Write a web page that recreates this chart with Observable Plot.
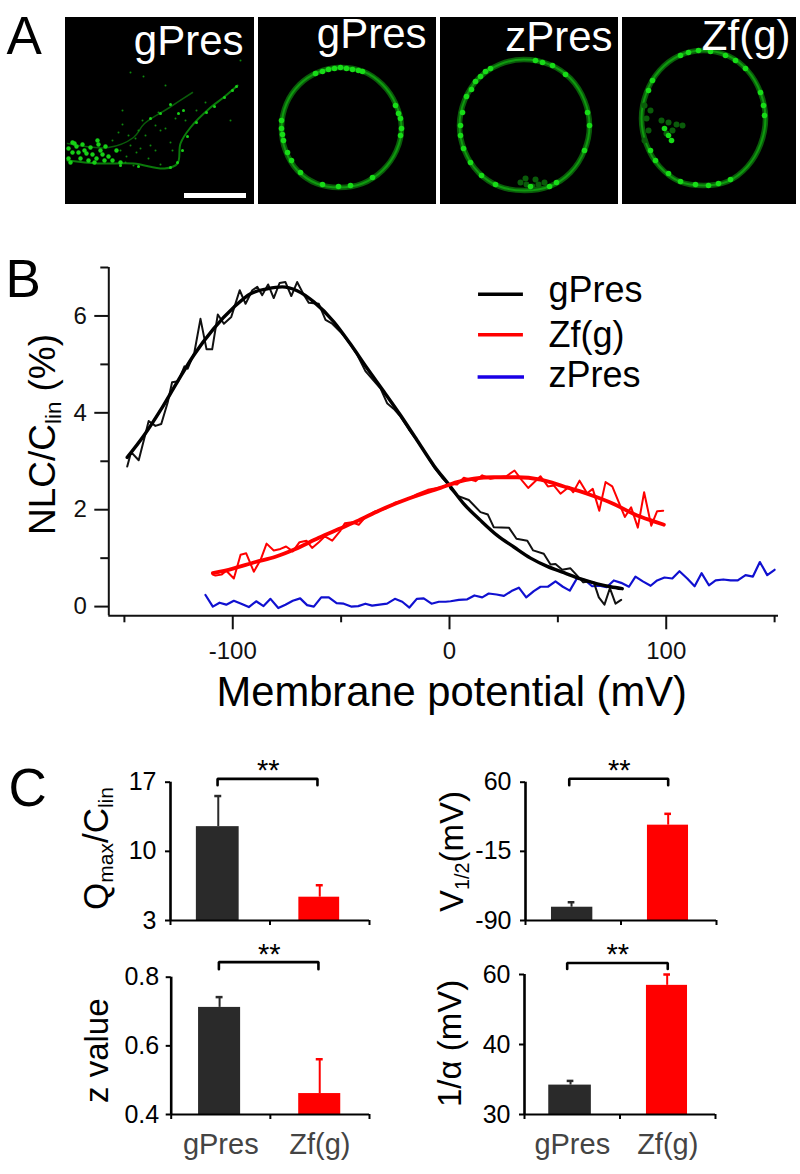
<!DOCTYPE html>
<html>
<head>
<meta charset="utf-8">
<script src="https://cdn.jsdelivr.net/npm/d3@7"></script>
<script src="https://cdn.jsdelivr.net/npm/@observablehq/plot@0.6"></script>
<style>
html,body{margin:0;padding:0;background:#fff}
#page{position:relative;width:800px;height:1174px;overflow:hidden}
#page svg{position:absolute;background:transparent;max-width:none}
</style>
</head>
<body>
<div id="page"></div>
<script>
const FONT = "Liberation Sans, Arial, sans-serif";

// ---------- Panel A: micrographs (positions read in page pixels) ----------
const panelLeft = [65, 258, 440, 622];
const panelRight = [254, 436, 618, 796];
const panelTop = [17, 17, 17, 17];
const panelBottom = [204, 204, 204, 204];
const panelNames = ["gPres", "gPres", "zPres", "Zf(g)"];
const panelNameX = [243, 426, 612, 790];
const panelNameY = [41, 34, 37, 36];

const ring2X = [338,363,382,395,401,396,382,362,338,316,297,285,281,286,299,317];
const ring2Y = [67,71,84,103,127,150,170,183,187,183,170,150,127,103,84,72];
const ring3X = [523,549,570,584,589,584,570,549,524,499,478,464,459,464,478,499];
const ring3Y = [59,64,78,100,125,150,172,186,190,186,172,150,125,100,78,64];
const ring4X = [703,727,747,760,765,760,747,727,703,679,659,646,641,646,659,679];
const ring4Y = [50,55,70,92,118,144,166,181,185,181,166,144,118,92,70,55];

const spot2X = [315,322,328,334,340,346,352,358,362,395,398,400,401,400,281,281,282,283,287,322,338,350,372,300,291];
const spot2Y = [73,71,69,68,67,68,69,70,71,105,113,118,128,135,120,128,134,140,152,184,186,185,177,172,160];
const spot3X = [535,542,552,565,587,589,584,556,549,490,485,480,475,471,466,462,460,460,463,470,481,495,530];
const spot3Y = [60,62,65,74,112,125,150,182,186,68,71,76,81,89,96,112,125,135,148,162,175,184,186];
const spot4X = [680,688,698,710,725,735,745,760,763,764,650,655,668,680,695,708,718,730,648,652,668,664,671];
const spot4Y = [55,52,50,51,55,60,68,92,105,115,150,160,173,181,184,185,183,179,90,80,135,128,140];
const dim3X = [520,526,532,538,544,525,535];
const dim3Y = [182,184,186,184,182,178,179];
const dim4X = [661,668,676,682,672,666,644,646,648,650,644];
const dim4Y = [120,122,124,125,130,133,105,118,130,110,140];

const cellEdgeX = [67,97,133,164,177,180,190,210,223,237];
const cellEdgeY = [160,163,163,168,163,143,127,107,97,85];
const cellUpperX = [192,169,144,133,108,67];
const cellUpperY = [92,107,123,137,147,143];
const blobX = [68,72,76,80,84,88,92,96,100,104,108,70,74,78,82,86,90,94,98,102,68,72,112,116,120,97,105];
const blobY = [148,152,146,158,150,160,154,158,150,160,156,162,143,152,144,153,147,162,144,154,158,142,160,150,162,140,146];
const speckX = [120,126,130,136,140,145,150,155,160,165,148,135,125,142,155,170,175,158,138,128,112,118,196,205,185,122,130,143,165,172,230,122,160,240,133];
const speckY = [150,156,145,152,148,135,145,125,130,128,158,138,162,120,150,142,118,112,130,135,140,132,110,102,120,110,72,76,85,150,120,124,164,60,165];
const speckBrightX = [170,177,182,187,196,206,214,224,232,236,183,178,160,150,138,170,120];
const speckBrightY = [167,162,150,136,122,112,106,97,90,86,110,113,113,118,166,104,165];
const scaleBarX1 = [184]; const scaleBarX2 = [246]; const scaleBarY1 = [193]; const scaleBarY2 = [198];

const panelLetters = ["A", "B", "C"];
const letterX = [6, 5, 8];
const letterY = [37, 280, 789];

// ---------- Panel B: NLC curves ----------
const gPresV = [-148.7,-146.9,-143.4,-140.6,-138.8,-135.7,-133,-130,-128,-125.2,-122.3,-120.8,-117.7,-114.9,-112.1,-109.5,-106.9,-104.1,-100.7,-96.8,-94.1,-91,-88.7,-86.4,-83.7,-81.1,-78.4,-75.7,-73,-70.3,-67.5,-64.9,-60.3,-57.2,-54.1,-50.3,-46.5,-42.6,-38.8,-35.7,-31.8,-28.8,-25.7,-22.6,-18.8,-14.9,-11.1,-7.2,-3.4,-0.3,0.5,3.5,8.9,14.3,17.7,20.4,27.4,30.9,35.9,38.6,43.5,46.6,48.9,52,55.8,58.9,61.7,64.3,66.6,68.9,71.5,74,76.6,79.2];
const gPresNLC = [2.89,3.19,3.02,3.51,3.83,3.73,3.77,4.22,4.63,4.65,4.96,4.91,5.25,5.94,5.31,5.31,6.03,5.84,5.98,6.53,6.25,6.53,6.6,6.43,6.65,6.37,6.68,6.7,6.41,6.7,6.46,6.27,6.25,5.92,5.84,5.67,5.46,5.2,4.86,4.7,4.5,4.2,4.08,3.92,3.66,3.42,3.17,2.88,2.66,2.52,2.43,2.29,2.2,1.95,1.9,1.64,1.63,1.4,1.36,1.16,1.09,0.87,0.88,0.76,0.79,0.64,0.5,0.52,0.5,0.19,0.04,0.38,0.06,0.14];
const gPresFitV = [-148.7,-141,-133.4,-125.7,-118,-108.8,-99.5,-91.8,-84.1,-77.2,-70.3,-62.6,-53.4,-45.7,-38,-30.3,-22.6,-14.9,-7.2,-0.3,6.6,14.3,22,29.7,37.4,45.1,52.8,60.5,68.2,74.3,79.7];
const gPresFitNLC = [3.08,3.53,4.05,4.63,5.19,5.74,6.18,6.46,6.56,6.6,6.52,6.29,5.88,5.42,4.92,4.44,3.95,3.43,2.91,2.52,2.12,1.78,1.47,1.23,1.0,0.83,0.7,0.57,0.47,0.41,0.37];

const zfV = [-109.2,-108,-105.2,-103,-99.5,-96.4,-93.8,-90.3,-87.2,-84.4,-81.1,-78,-75.4,-72.3,-69.2,-66,-63.4,-60.3,-57.5,-54.1,-50.3,-48.3,-44.9,-41.9,-38.8,-34.1,-29.5,-24.9,-20.3,-15,-10,-4.2,0.5,3.5,6.6,12,15.1,18.9,22.8,26.2,30,33.5,36.3,42,45.4,48.1,51.2,55.1,57.1,60,63.5,66.1,69.1,72,75.1,80.9,83.8,86.9,89.8,93.1,95.8,98.6];
const zfNLC = [0.66,0.64,0.66,0.74,0.58,1.07,1.1,0.72,0.96,1.3,1.16,1.19,1.24,1.14,1.33,1.36,1.21,1.33,1.45,1.36,1.57,1.72,1.74,1.69,1.85,1.97,2.02,2.15,2.2,2.32,2.41,2.46,2.53,2.52,2.66,2.59,2.71,2.64,2.67,2.69,2.81,2.6,2.45,2.69,2.48,2.5,2.33,2.47,2.36,2.6,2.34,2.43,1.98,2.57,2.48,1.85,2.05,1.63,2.36,1.67,1.97,1.98];
const zfFitV = [-109.2,-100.3,-89.5,-80.3,-71.1,-60.3,-51.1,-41.9,-32.6,-18.8,-4.2,3.5,11.2,20.4,31.2,42,52.8,63.5,75.8,86.6,94.3,98.9];
const zfFitNLC = [0.69,0.78,0.92,1.03,1.19,1.42,1.6,1.78,1.98,2.23,2.45,2.57,2.64,2.67,2.67,2.62,2.48,2.33,2.12,1.88,1.76,1.69];

const zPresV = [-112.6,-109.2,-106.1,-103,-99.5,-96.1,-92.6,-89.2,-85.8,-82.6,-79,-75.7,-72.3,-68.9,-65.7,-62.6,-59.2,-55.7,-52.1,-48.8,-45.4,-42.1,-38.8,-35.7,-32.3,-28.8,-25.2,-21.8,-18.5,-15.1,-11.9,-8.3,-4.9,-1.8,0.5,4.3,8.2,11.5,15.1,18.1,21.7,25.1,28.6,32,35.4,38.9,42,45.4,48.9,52.3,55.5,58.9,62.4,65.8,69.2,72.5,75.8,79.2,82.8,85.8,89.2,92.8,95.8,99.2,102.8,106.1,109.7,113.1,116.3,119.7,122.8,126.3,129.7,133,136.6,140,143.2,146.6,150];
const zPresNLC = [0.24,0,0.08,0.04,0.12,0.06,-0.01,0.11,0.01,0.16,-0.03,0.04,0.12,0.17,0.03,0,0.19,0.19,0.07,0.06,0,0.01,0.06,0.02,0.04,0.06,0.16,0.1,-0.02,0.16,0.17,0.06,0.1,0.1,0.11,0.14,0.15,0.23,0.19,0.27,0.25,0.22,0.32,0.39,0.19,0.32,0.41,0.41,0.52,0.41,0.33,0.59,0.55,0.42,0.43,0.4,0.54,0.49,0.41,0.62,0.52,0.43,0.54,0.6,0.58,0.73,0.58,0.42,0.69,0.44,0.54,0.56,0.54,0.54,0.65,0.62,0.92,0.65,0.76];

const legendNames = ["gPres", "Zf(g)", "zPres"];
const legendColors = ["#000000", "#ff0000", "#1a00e6"];
const legendLineY = [6.45, 5.61, 4.74];
const legendTextY = [6.52, 5.6, 4.77];
const legendX1 = [13.4, 13.4, 13.2];
const legendX2 = [34.1, 34.1, 34.6];
const legendTextX = [45.7, 45.7, 45.7];

const bMajorX = [-100, 0, 100];
const bMinorX = [-150, -50, 50, 150];
const bMajorY = [0, 2, 4, 6];
const bMinorY = [1, 3, 5, 7];

// ---------- Panel C: bars ----------
const categories = ["gPres", "Zf(g)"];
const qmaxMean = [12.5, 5.36], qmaxErr = [15.6, 6.57], qmaxTicks = [3, 10, 17];
const zMean = [0.712, 0.461], zErr = [0.742, 0.561], zTicks = [0.4, 0.6, 0.8];
const vMean = [-75.6, 13.4], vErr = [-70.2, 25.7], vTicks = [-90, -15, 60];
const aMean = [34.2, 56.9], aErr = [34.8, 60], aTicks = [30, 40, 60];
const barColors = ["#2a2a2a", "#ff0000"];
const sig = ["**"];

// ---------- page overlay ----------
const page = document.getElementById("page");

function place(svg, left, top) {
  svg.style.left = left + "px";
  svg.style.top = top + "px";
  page.appendChild(svg);
  return svg;
}

const ringMarks = (xs, ys, sx, sy, dx, dy) => [
  Plot.line(xs, {x: xs, y: ys, curve: "catmull-rom-closed", stroke: "#0a5c0a", strokeWidth: 5.5}),
  Plot.line(xs, {x: xs, y: ys, curve: "catmull-rom-closed", stroke: "#0f9a0f", strokeWidth: 2}),
  dx ? Plot.dot(dx, {x: dx, y: dy, r: 3, fill: "#0a5c0a"}) : null,
  Plot.dot(sx, {x: sx, y: sy, r: 2.8, fill: "#17dc17"})
];

const overlay = place(Plot.plot({
  width: 800, height: 1174, margin: 0,
  x: {domain: [0, 800], axis: null},
  y: {domain: [0, 1174], range: [0, 1174], axis: null},
  style: {fontFamily: FONT, background: "transparent"},
  marks: [
    Plot.rect(panelNames, {x1: panelLeft, x2: panelRight, y1: panelTop, y2: panelBottom, fill: "#000"}),
    Plot.line(cellEdgeX, {x: cellEdgeX, y: cellEdgeY, curve: "catmull-rom", stroke: "#0b7a0b", strokeWidth: 2}),
    Plot.line(cellUpperX, {x: cellUpperX, y: cellUpperY, curve: "catmull-rom", stroke: "#0a5c0a", strokeWidth: 1.5}),
    Plot.dot(speckX, {x: speckX, y: speckY, r: 1, fill: "#0e8a0e"}),
    Plot.dot(speckBrightX, {x: speckBrightX, y: speckBrightY, r: 1.5, fill: "#19d019"}),
    Plot.dot(blobX, {x: blobX, y: blobY, r: 2.2, fill: "#16d016"}),
    ...ringMarks(ring2X, ring2Y, spot2X, spot2Y),
    ...ringMarks(ring3X, ring3Y, spot3X, spot3Y, dim3X, dim3Y),
    ...ringMarks(ring4X, ring4Y, spot4X, spot4Y, dim4X, dim4Y),
    Plot.rect(scaleBarX1, {x1: scaleBarX1, x2: scaleBarX2, y1: scaleBarY1, y2: scaleBarY2, fill: "#fff"}),
    Plot.text(panelNames, {x: panelNameX, y: panelNameY, text: d => d, fill: "#fff", textAnchor: "end", fontSize: 42}),
    Plot.text(panelLetters, {x: letterX, y: letterY, text: d => d, fill: "#000", textAnchor: "start", fontSize: 53})
  ]
}), 0, 0);

function rotLabel(x, y, fontSize, parts) {
  const t = d3.select(overlay).append("text")
    .attr("transform", `translate(${x},${y}) rotate(-90)`)
    .attr("text-anchor", "start")
    .attr("font-family", FONT).attr("font-size", fontSize).attr("fill", "#000");
  let wasSub = false;
  parts.forEach(([s, sub]) => {
    const sp = t.append("tspan").text(s);
    if (sub) { sp.attr("font-size", fontSize * 0.6).attr("dy", fontSize * 0.17); wasSub = true; }
    else if (wasSub) { sp.attr("dy", -fontSize * 0.17); wasSub = false; }
  });
}
rotLabel(55, 535, 37, [["NLC/C"], ["lin", true], [" (%)"]]);
rotLabel(107.5, 910, 35, [["Q"], ["max", true], ["/C"], ["lin", true]]);
rotLabel(108, 1103, 33, [["z value"]]);
rotLabel(463, 912, 33, [["V"], ["1/2", true], ["(mV)"]]);
rotLabel(460.5, 1107, 33, [["1/α (mV)"]]);

// ---------- Panel B plot ----------
const bTop = 240;
place(Plot.plot({
  width: 800, height: 480,
  marginLeft: 108.3, marginRight: 22, marginTop: 267 - bTop, marginBottom: 480 - (615.3 - bTop),
  x: {domain: [-157.2, 151.8]},
  y: {domain: [-0.19, 7]},
  style: {fontFamily: FONT, background: "transparent", color: "#111"},
  marks: [
    Plot.axisX({ticks: bMajorX, tickSize: 14, tickPadding: 12, fontSize: 24, strokeWidth: 2, stroke: "#111", tickFormat: d => String(d), label: null}),
    Plot.axisX({ticks: bMinorX, tickSize: 7, strokeWidth: 2, stroke: "#111", tickFormat: () => "", label: null}),
    Plot.axisY({ticks: bMajorY, tickSize: 14, tickPadding: 8, fontSize: 24, strokeWidth: 2, stroke: "#111", tickFormat: d => String(d), label: null}),
    Plot.axisY({ticks: bMinorY, tickSize: 8, strokeWidth: 2, stroke: "#111", tickFormat: () => "", label: null}),
    Plot.ruleX([-157.2], {stroke: "#111", strokeWidth: 2}),
    Plot.ruleY([-0.19], {stroke: "#111", strokeWidth: 2}),
    Plot.line(zPresV, {x: zPresV, y: zPresNLC, stroke: "#1010d0", strokeWidth: 2.2}),
    Plot.line(gPresV, {x: gPresV, y: gPresNLC, stroke: "#111", strokeWidth: 2}),
    Plot.line(zfV, {x: zfV, y: zfNLC, stroke: "#ff0000", strokeWidth: 2}),
    Plot.line(gPresFitV, {x: gPresFitV, y: gPresFitNLC, stroke: "#000", strokeWidth: 3.4, curve: "monotone-x"}),
    Plot.line(zfFitV, {x: zfFitV, y: zfFitNLC, stroke: "#ff0000", strokeWidth: 3.8, curve: "monotone-x"}),
    Plot.ruleY(legendNames, {y: legendLineY, x1: legendX1, x2: legendX2, stroke: legendColors, strokeWidth: 3.5}),
    Plot.text(legendNames, {x: legendTextX, y: legendTextY, text: d => d, textAnchor: "start", fontSize: 36, fill: "#000"}),
    Plot.text(["Membrane potential (mV)"], {x: [1], y: [-1.78], text: d => d, fontSize: 41.7, fill: "#000"})
  ]
}), 0, bTop);

// ---------- Panel C plots ----------
function barPanel(o) {
  const chartH = o.bottomPx - o.top;
  const yScale = o.midPx
    ? {type: "linear", domain: o.domain, range: [o.bottomPx - o.top, o.midPx - o.top, o.topPx - o.top]}
    : {domain: o.domain};
  const bx = [0, 1];
  return place(Plot.plot({
    width: 400, height: o.height,
    marginLeft: o.axisX1 - o.left, marginRight: 400 - (o.axisX2 - o.left),
    marginTop: o.topPx - o.top, marginBottom: o.height - chartH,
    x: {domain: [0, 2]},
    y: yScale,
    style: {fontFamily: FONT, background: "transparent", color: "#000"},
    marks: [
      Plot.ruleX(bx, {x: o.errX, y1: o.mean, y2: o.err, stroke: barColors, strokeWidth: 2}),
      Plot.ruleY(bx, {y: o.err, x1: o.errX.map(d => d - 0.035), x2: o.errX.map(d => d + 0.035), stroke: barColors, strokeWidth: 2.5}),
      Plot.rectY(bx, {x1: o.bar1, x2: o.bar2, y1: o.domain[0], y2: o.mean, fill: barColors}),
      Plot.axisY({ticks: o.ticks, tickSize: 5, tickPadding: o.pad ?? 9, fontSize: 25, strokeWidth: 2, tickFormat: d => String(d), label: null}),
      Plot.axisX({ticks: [0, 1, 2], tickSize: 5, strokeWidth: 2, tickFormat: () => "", label: null}),
      o.labels ? Plot.axisX({ticks: [0.5, 1.5], tickSize: 0, tickPadding: 19, fontSize: 29, fill: "#444", tickFormat: d => categories[d - 0.5], label: null}) : null,
      Plot.ruleX([0], {stroke: "#000", strokeWidth: 2.6}),
      Plot.ruleY([o.domain[0]], {stroke: "#000", strokeWidth: 2}),
      Plot.line(o.brX, {x: o.brX, y: o.brY, stroke: "#000", strokeWidth: 2.6, strokeLinejoin: "miter"}),
      Plot.text(sig, {x: [o.starX], y: [o.starY], text: d => d, fontSize: 29, fill: "#000"})
    ]
  }), o.left, o.top);
}

barPanel({
  left: 0, top: 740, height: 200, axisX1: 170, axisX2: 369, topPx: 781.7, bottomPx: 920,
  domain: [3, 17], ticks: qmaxTicks, mean: qmaxMean, err: qmaxErr,
  bar1: [0.26, 1.29], bar2: [0.69, 1.70], errX: [0.48, 1.5],
  brX: [0.473, 0.473, 1.477, 1.477], brY: [16.69, 17.34, 17.34, 16.69], starX: 0.983, starY: 18.2
});
barPanel({
  left: 0, top: 925, height: 249, axisX1: 170.7, axisX2: 369, topPx: 976.7, bottomPx: 1114,
  domain: [0.4, 0.8], ticks: zTicks, mean: zMean, err: zErr, labels: true, pad: 7,
  bar1: [0.276, 1.286], bar2: [0.70, 1.71], errX: [0.488, 1.498],
  brX: [0.481, 0.481, 1.485, 1.485], brY: [0.823, 0.844, 0.844, 0.823], starX: 0.99, starY: 0.866
});
barPanel({
  left: 400, top: 740, height: 200, axisX1: 525, axisX2: 716, topPx: 781.7, bottomPx: 920,
  domain: [-90, 60], ticks: vTicks, mean: vMean, err: vErr,
  bar1: [0.272, 1.277], bar2: [0.705, 1.707], errX: [0.482, 1.494],
  brX: [0.458, 0.458, 1.494, 1.494], brY: [56.7, 63.7, 63.7, 56.7], starX: 0.981, starY: 72.7
});
barPanel({
  left: 400, top: 925, height: 249, axisX1: 524, axisX2: 715, topPx: 974, midPx: 1044, bottomPx: 1114,
  domain: [30, 40, 60], ticks: aTicks, mean: aMean, err: aErr, labels: true,
  bar1: [0.254, 1.277], bar2: [0.70, 1.707], errX: [0.482, 1.494],
  brX: [0.447, 0.447, 1.50, 1.50], brY: [61.6, 63.3, 63.3, 61.6], starX: 0.977, starY: 65.7
});
</script>
</body>
</html>
